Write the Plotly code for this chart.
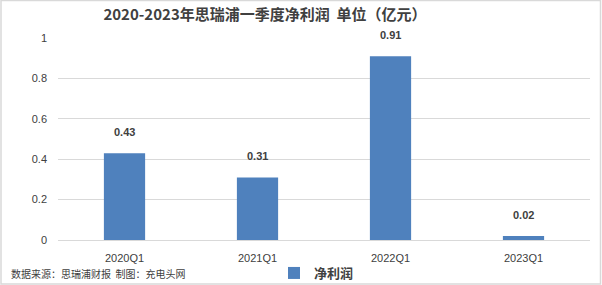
import plotly.graph_objects as go

categories = ["2020Q1", "2021Q1", "2022Q1", "2023Q1"]
values = [0.43, 0.31, 0.91, 0.02]
labels = ["0.43", "0.31", "0.91", "0.02"]
tick_vals = [0, 0.2, 0.4, 0.6, 0.8, 1]
tick_text = ["0", "0.2", "0.4", "0.6", "0.8", "1"]

font_main = "Liberation Sans, Noto Sans CJK SC, sans-serif"
font_cjk = "Noto Sans CJK SC, sans-serif"

W, H = 602, 285
L, R, T, B = 58, 12, 38, 45
pw, ph = W - L - R, H - T - B

fig = go.Figure()
fig.add_trace(go.Bar(
    x=categories, y=values, name="<b>净利润</b>",
    marker=dict(color="#4F81BD", line=dict(width=0)),
    cliponaxis=False,
))

annotations = [dict(x=c, y=v, text="<b>%s</b>" % s, showarrow=False,
                    yanchor="bottom", yshift=13,
                    font=dict(family=font_main, size=11, color="#404040"))
               for c, v, s in zip(categories, values, labels)]
annotations.append(dict(text="数据来源：思瑞浦财报  制图：充电头网", xref="paper", yref="paper",
                        x=-(L - 9) / pw, y=-(273 - T - ph) / ph, xanchor="left", yanchor="middle",
                        showarrow=False,
                        font=dict(family=font_cjk, size=10, color="#404040")))

fig.update_layout(
    width=W, height=H,
    margin=dict(l=L, r=R, t=T, b=B, autoexpand=False),
    paper_bgcolor="white", plot_bgcolor="white",
    bargap=0.69,
    showlegend=True,
    legend=dict(orientation="h", x=(274 - L) / pw, xanchor="left", y=-(258 - T - ph) / ph, yanchor="top",
                font=dict(family=font_cjk, size=13, color="#404040"),
                itemwidth=30, bgcolor="rgba(0,0,0,0)"),
    title=dict(text="<b>2020-2023年思瑞浦一季度净利润  单位（亿元）</b>",
               x=265 / W, xanchor="center", y=1 - 15 / H, yanchor="middle",
               font=dict(family=font_cjk, size=15, color="#404040")),
    xaxis=dict(showline=True, linecolor="#D9D9D9", tickfont=dict(family=font_main, size=11, color="#404040"),
               ticks="", ticklabelstandoff=8),
    yaxis=dict(range=[0, 1], tickvals=tick_vals, ticktext=tick_text,
               gridcolor="#D9D9D9", zeroline=False, showline=False,
               tickfont=dict(family=font_main, size=11, color="#404040"),
               ticklabelstandoff=10),
    shapes=[dict(type="rect", xref="paper", yref="paper",
                 x0=-(L - 1) / pw, x1=1 + (R - 1.5) / pw,
                 y0=-(B - 1) / ph, y1=1 + (T - 0.5) / ph,
                 line=dict(color="#D9D9D9", width=1.5))],
    annotations=annotations,
)

fig.write_html("out.html")
